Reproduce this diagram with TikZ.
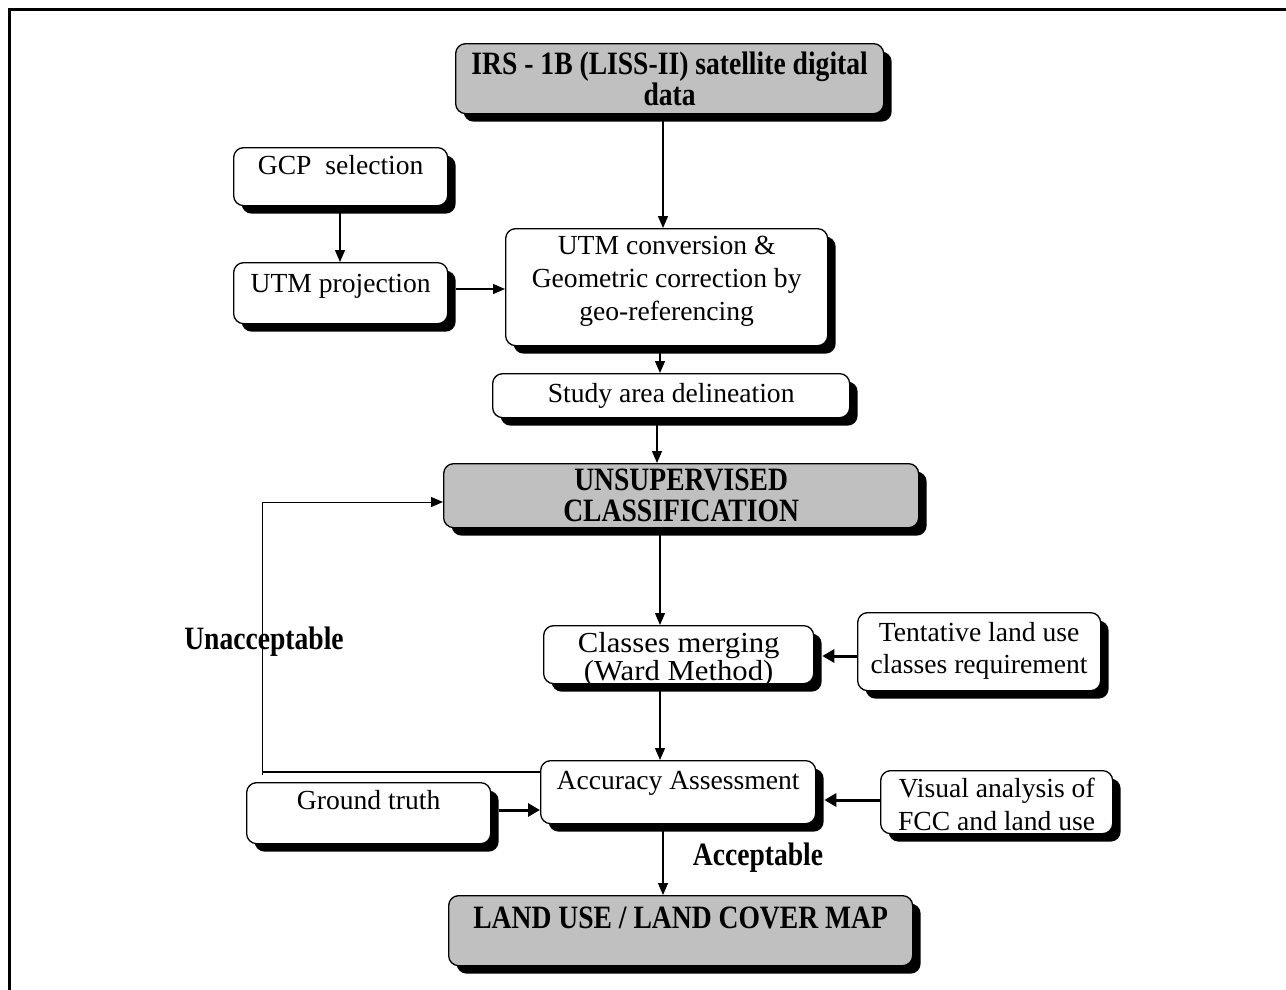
\documentclass[tikz,border=0pt]{standalone}
\usepackage{fontspec}
\setmainfont{Liberation Serif}
\usetikzlibrary{arrows.meta,shadows}
\definecolor{boxgray}{RGB}{192,192,192}
\newcommand\bst[1]{\scalebox{1}[1.18]{\bfseries #1}}
\newcommand\wst[1]{\scalebox{1.06}[1]{#1}}
\newcommand\inbox[4]{\parbox[c][#2][t]{#1}{\centering\rule{0pt}{#3}#4\par}}
\newcommand\cbox[3]{\parbox[c][#2][c]{#1}{\centering #3\par}}
\tikzset{
  box/.style={draw, line width=1.3pt, rounded corners=10pt, fill=white, inner sep=0pt,
    anchor=north west, drop shadow={shadow xshift=8pt, shadow yshift=-8pt, fill=black, opacity=1},
    font=\fontsize{27.6}{33}\selectfont},
  graybox/.style={box, fill=boxgray},
  conn/.style={line width=1.3pt, -{Triangle[length=12pt,width=10pt]}},
  bigconn/.style={line width=3pt, -{Triangle[length=12pt,width=13pt]}},
  lbl/.style={inner sep=0pt, font=\fontsize{27.6}{33}\selectfont}
}
\begin{document}
\begin{tikzpicture}[x=1pt,y=-1pt]
\useasboundingbox (0,0) rectangle (1286,989);
\clip (0,0) rectangle (1286,989);
\draw[line width=3pt] (9,995) -- (9,9) -- (1295,9);

\node[graybox] (irs) at (455,43) {\cbox{428pt}{70pt}{\bst{IRS - 1B (LISS-II) satellite digital}\\[-2pt]\bst{data}}};
\node[box] (gcp) at (233,147) {\inbox{214pt}{58pt}{27pt}{GCP\ \ selection}};
\node[box] (utmp) at (233,262) {\inbox{214pt}{61pt}{30pt}{UTM projection}};
\node[box] (utmc) at (505,228) {\inbox{322pt}{117pt}{26pt}{UTM conversion \&\\Geometric correction by\\geo-referencing}};
\node[box] (study) at (492,373) {\cbox{357pt}{44pt}{Study area delineation}};
\node[graybox] (unsup) at (443,463) {\cbox{475pt}{64pt}{\bst{UNSUPERVISED}\\[-2pt]\bst{CLASSIFICATION}}};
\node[box, font=\fontsize{29}{25}\selectfont] (classes) at (543,625) {\inbox{270pt}{58pt}{27pt}{\wst{Classes merging}\\\wst{(Ward Method)}}};
\node[box] (tent) at (857,612) {\inbox{243pt}{78pt}{29pt}{Tentative land use\\[-1pt]classes requirement}};
\node[box] (acc) at (540,760) {\inbox{275pt}{63pt}{29pt}{Accuracy Assessment}};
\node[box] (ground) at (246,782) {\inbox{244pt}{61pt}{27pt}{Ground truth}};
\node[box] (vis) at (880,770) {\inbox{232pt}{63pt}{27pt}{Visual analysis of\\FCC and land use}};
\node[graybox] (land) at (448,895) {\inbox{464pt}{70pt}{33pt}{\bst{LAND USE / LAND COVER MAP}}};

\coordinate (xa) at (663,0);
\coordinate (xb) at (340,0);
\coordinate (xc) at (660,0);
\coordinate (xd) at (657,0);
\coordinate (ya) at (0,289);
\coordinate (yb) at (0,656);
\coordinate (yc) at (0,810);
\coordinate (yd) at (0,800);
\coordinate (fb1) at (262,772);
\coordinate (fb2) at (262,502);

\draw[conn] (irs.south -| xa) -- (utmc.north -| xa);
\draw[conn] (gcp.south -| xb) -- (utmp.north -| xb);
\draw[conn] ([xshift=8pt]utmp.east |- ya) -- (utmc.west |- ya);
\draw[conn] (utmc.south -| xc) -- (study.north -| xc);
\draw[conn] (study.south -| xd) -- (unsup.north -| xd);
\draw[conn] (unsup.south -| xc) -- (classes.north -| xc);
\draw[bigconn] (tent.west |- yb) -- ([xshift=8pt]classes.east |- yb);
\draw[conn] (classes.south -| xc) -- (acc.north -| xc);
\draw[bigconn] ([xshift=8pt]ground.east |- yc) -- (acc.west |- yc);
\draw[bigconn] (vis.west |- yd) -- ([xshift=8pt]acc.east |- yd);
\draw[conn] (acc.south -| xa) -- (land.north -| xa);

\draw[line width=2pt] (acc.west |- fb1) -- (fb1);
\draw[conn, line width=1pt] ([yshift=-3pt]fb1) -- (fb2) -- (unsup.west |- fb2);

\node[lbl] (unacc) at (264,642) {\bst{Unacceptable}};
\node[lbl] (accept) at (758,858) {\bst{Acceptable}};
\end{tikzpicture}
\end{document}
